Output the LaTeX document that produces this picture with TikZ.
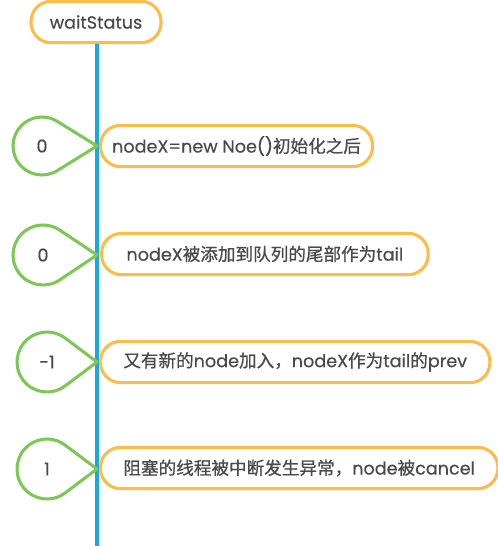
\documentclass[tikz,border=0pt]{standalone}
\usepackage{fontspec}
\setmainfont{Poppins}[FakeBold=0.5]
\newfontfamily\cjk{Noto Sans CJK SC}[FakeBold=0.8]
\usepackage{xcolor}
\definecolor{statusOrange}{RGB}{253, 188, 72}
\definecolor{dropGreen}{RGB}{125, 200, 85}
\definecolor{lineBlue}{RGB}{24, 168, 226}
\definecolor{textGray}{RGB}{74, 74, 74}

\tikzset{
    statebox/.style={rectangle, draw=statusOrange, line width=2.3pt, rounded corners=15pt, minimum height=31pt, text=textGray, font=\fontsize{13.2}{15}\selectfont},
    dropline/.style={draw=dropGreen, line width=2.3pt, line join=round},
    dropval/.style={text=textGray, font=\fontsize{13.2}{15}\selectfont}
}

\begin{document}
\begin{tikzpicture}[x=0.75pt, y=-0.75pt]
    \useasboundingbox (0,0) rectangle (498,546);
    % timeline
    \node[statebox, minimum width=97.5pt] (ws) at (96,22) {waitStatus};
    \coordinate (end) at (97,546);
    \draw[lineBlue, line width=2.5pt] (ws.south -| end) -- (end);

    % values of waitStatus
    \coordinate (tip1) at (97,146);
    \node[dropval] (v1) at (42,146) {0};
    \draw[dropline] (tip1) -- ([shift={(57:29)}]v1.center) arc[start angle=57, end angle=303, radius=29] -- cycle;
    \node[statebox, anchor=west, minimum width=204pt] (b1) at (99,146) {nodeX=new Noe(){\cjk 初始化之后}};

    \coordinate (tip2) at (97,255);
    \node[dropval] (v2) at (43,255) {0};
    \draw[dropline] (tip2) -- ([shift={(55:30)}]v2.center) arc[start angle=55, end angle=305, radius=30] -- cycle;
    \node[statebox, anchor=west, minimum width=245pt] (b2) at (100,254) {nodeX{\cjk 被添加到队列的尾部作为}tail};

    \coordinate (tip3) at (97,362);
    \node[dropval] (v3) at (47,362) {-1};
    \draw[dropline] (tip3) -- ([shift={(53:30)}]v3.center) arc[start angle=53, end angle=307, radius=30] -- cycle;
    \node[statebox, anchor=west, minimum width=292pt] (b3) at (99,362) {{\cjk 又有新的}node{\cjk 加入，}nodeX{\cjk 作为}tail{\cjk 的}prev};

    \coordinate (tip4) at (97,469);
    \node[dropval] (v4) at (47,469) {1};
    \draw[dropline] (tip4) -- ([shift={(53:30)}]v4.center) arc[start angle=53, end angle=307, radius=30] -- cycle;
    \node[statebox, anchor=west, minimum width=298pt] (b4) at (99,468) {{\cjk 阻塞的线程被中断发生异常，}node{\cjk 被}cancel};
\end{tikzpicture}
\end{document}
